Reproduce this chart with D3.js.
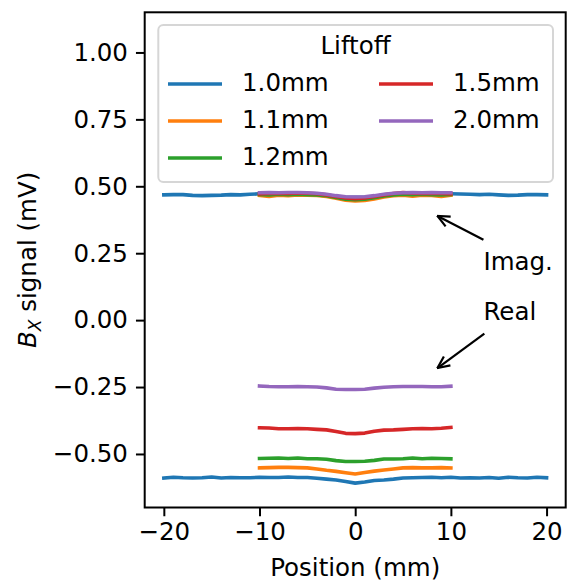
<!DOCTYPE html>
<html><head><meta charset="utf-8">
<script src="https://cdn.jsdelivr.net/npm/d3@7"></script>
<style>body{margin:0;background:#fff}svg{display:block;font-family:"DejaVu Sans",sans-serif}</style>
</head><body><svg id="c" width="568" height="581"></svg>
<script>
// ---- data ----
const seriesNames = ["1.0mm","1.1mm","1.2mm","1.5mm","2.0mm"];
const seriesColors = ["#1f77b4","#ff7f0e","#2ca02c","#d62728","#9467bd"];
const posLong = d3.range(-20, 21, 1);
const posShort = d3.range(-10, 11, 1);
const real10 = [-0.590,-0.587,-0.589,-0.590,-0.589,-0.586,-0.590,-0.588,-0.589,-0.589,-0.587,-0.588,-0.588,-0.586,-0.588,-0.588,-0.591,-0.594,-0.597,-0.603,-0.609,-0.605,-0.599,-0.597,-0.594,-0.590,-0.589,-0.588,-0.587,-0.589,-0.587,-0.590,-0.589,-0.590,-0.588,-0.591,-0.587,-0.589,-0.590,-0.587,-0.589];
const imag10 = [0.468,0.469,0.469,0.466,0.465,0.466,0.467,0.469,0.468,0.470,0.472,0.472,0.473,0.472,0.471,0.470,0.468,0.465,0.462,0.460,0.459,0.460,0.462,0.465,0.468,0.470,0.471,0.472,0.473,0.472,0.472,0.471,0.470,0.469,0.470,0.468,0.466,0.467,0.469,0.469,0.468];
const real11 = [-0.552,-0.551,-0.550,-0.550,-0.551,-0.552,-0.556,-0.561,-0.565,-0.570,-0.575,-0.569,-0.564,-0.560,-0.556,-0.552,-0.551,-0.552,-0.552,-0.551,-0.552];
const imag11 = [0.466,0.462,0.467,0.465,0.468,0.467,0.466,0.462,0.455,0.448,0.445,0.447,0.453,0.460,0.465,0.467,0.463,0.467,0.466,0.462,0.467];
const real12 = [-0.517,-0.516,-0.515,-0.517,-0.515,-0.518,-0.518,-0.520,-0.525,-0.528,-0.528,-0.527,-0.524,-0.519,-0.519,-0.518,-0.515,-0.518,-0.516,-0.517,-0.518];
const imag12 = [0.469,0.468,0.470,0.469,0.470,0.469,0.468,0.465,0.458,0.452,0.450,0.452,0.457,0.464,0.468,0.470,0.469,0.470,0.469,0.468,0.469];
const real15 = [-0.402,-0.403,-0.406,-0.406,-0.405,-0.406,-0.408,-0.410,-0.416,-0.423,-0.424,-0.422,-0.415,-0.411,-0.410,-0.408,-0.406,-0.405,-0.406,-0.404,-0.401];
const imag15 = [0.472,0.473,0.474,0.473,0.475,0.474,0.472,0.468,0.462,0.456,0.454,0.456,0.462,0.468,0.473,0.477,0.474,0.473,0.474,0.473,0.472];
const real20 = [-0.246,-0.248,-0.249,-0.249,-0.248,-0.249,-0.250,-0.253,-0.258,-0.259,-0.259,-0.258,-0.254,-0.251,-0.249,-0.248,-0.248,-0.248,-0.249,-0.249,-0.247];
const imag20 = [0.476,0.477,0.476,0.477,0.477,0.476,0.474,0.470,0.465,0.461,0.460,0.461,0.465,0.470,0.474,0.476,0.477,0.476,0.477,0.476,0.476];
const xTicks = [-20,-10,0,10,20];
const yTicks = [-0.5,-0.25,0,0.25,0.5,0.75,1.0];
const annotations = [
  {text:"Imag.", tip:[8.6,0.389], tail:[13.4,0.30], label:[13.4,0.215]},
  {text:"Real", tip:[8.6,-0.179], tail:[13.5,-0.05], label:[13.4,0.028]}
];

// ---- chart ----
const svg = d3.select("#c");
const FS = 24.5;
const L=144.7, R=565.7, T=12.3, B=507.5;
const x = d3.scaleLinear().domain([-22,22]).range([L,R]);
const y = d3.scaleLinear().domain([-0.7,1.15]).range([B,T]);
const fmtMinus = s => s.replace("-", "\u2212");

const series = [
  {pos:posLong, real:real10, imag:imag10},
  {pos:posShort, real:real11, imag:imag11},
  {pos:posShort, real:real12, imag:imag12},
  {pos:posShort, real:real15, imag:imag15},
  {pos:posShort, real:real20, imag:imag20}
];
const line = d3.line().x(d=>x(d[0])).y(d=>y(d[1]));
const g = svg.append("g");
series.forEach((s,i)=>{
  ["real","imag"].forEach(k=>{
    g.append("path").attr("d", line(s.pos.map((p,j)=>[p,s[k][j]])))
      .attr("fill","none").attr("stroke",seriesColors[i]).attr("stroke-width",3.6)
      .attr("stroke-linecap","square").attr("stroke-linejoin","round");
  });
});

// axes
const xAxis = d3.axisBottom(x).tickValues(xTicks).tickSize(8.75).tickPadding(6).tickFormat(d=>fmtMinus(d3.format("d")(d)));
const yAxis = d3.axisLeft(y).tickValues(yTicks).tickSize(8.75).tickPadding(8).tickFormat(d=>fmtMinus(d3.format(".2f")(d)));
const gx = svg.append("g").attr("transform",`translate(0,${B})`).call(xAxis);
const gy = svg.append("g").attr("transform",`translate(${L},0)`).call(yAxis);
[gx,gy].forEach(a=>{
  a.select(".domain").remove();
  a.selectAll(".tick line").attr("stroke","#000").attr("stroke-width",2);
  a.selectAll(".tick text").attr("font-size",FS).attr("fill","#000").attr("font-family","DejaVu Sans");
});
svg.append("rect").attr("x",L).attr("y",T).attr("width",R-L).attr("height",B-T)
  .attr("fill","none").attr("stroke","#000").attr("stroke-width",2);

// axis labels
svg.append("text").attr("x",(L+R)/2).attr("y",576).attr("text-anchor","middle")
  .attr("font-size",FS).text("Position (mm)");
const yl = svg.append("text").attr("transform",`translate(36,${(T+B)/2}) rotate(-90)`)
  .attr("text-anchor","middle").attr("font-size",FS);
yl.append("tspan").attr("font-style","italic").text("B");
yl.append("tspan").attr("font-style","italic").attr("font-size",17).attr("dy",5).text("X");
yl.append("tspan").attr("dy",-5).text(" signal (mV)");

// annotations
svg.append("defs").append("marker").attr("id","ah").attr("viewBox","0 0 14 14")
  .attr("refX",13).attr("refY",7).attr("markerWidth",14).attr("markerHeight",14)
  .attr("markerUnits","userSpaceOnUse").attr("orient","auto")
  .append("path").attr("d","M1,1.5 L13,7 L1,12.5").attr("fill","none").attr("stroke","#000").attr("stroke-width",2.2);
annotations.forEach(a=>{
  svg.append("line").attr("x1",x(a.tail[0])).attr("y1",y(a.tail[1]))
    .attr("x2",x(a.tip[0])).attr("y2",y(a.tip[1]))
    .attr("stroke","#000").attr("stroke-width",2.2).attr("marker-end","url(#ah)");
  svg.append("text").attr("x",x(a.label[0])).attr("y",y(a.label[1])).attr("font-size",FS)
    .attr("dominant-baseline","middle").text(a.text);
});

// legend
const lg = svg.append("g");
lg.append("rect").attr("x",158.3).attr("y",25).attr("width",394.7).attr("height",157).attr("rx",5)
  .attr("fill","#fff").attr("fill-opacity",0.8).attr("stroke","#d6d6d6").attr("stroke-width",2);
lg.append("text").attr("x",355.5).attr("y",47).attr("text-anchor","middle")
  .attr("dominant-baseline","middle").attr("font-size",FS).text("Liftoff");
const rowsY = [84,121,158];
seriesNames.forEach((n,i)=>{
  const col = i<3?0:1, row = i<3?i:i-3;
  const hx = col===0?168:379, tx = col===0?242:453;
  lg.append("line").attr("x1",hx).attr("x2",hx+54).attr("y1",rowsY[row]).attr("y2",rowsY[row])
    .attr("stroke",seriesColors[i]).attr("stroke-width",3.6);
  lg.append("text").attr("x",tx).attr("y",rowsY[row]).attr("dominant-baseline","middle")
    .attr("font-size",FS).text(n);
});
</script></body></html>
